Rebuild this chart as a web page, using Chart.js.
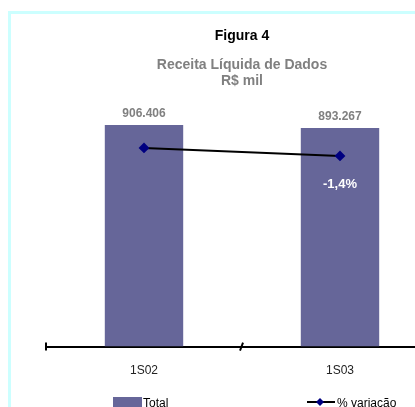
<!DOCTYPE html>
<html>
<head>
<meta charset="utf-8">
<script src="https://cdn.jsdelivr.net/npm/chart.js@4/dist/chart.umd.min.js"></script>
<style>
  html, body { margin: 0; padding: 0; background: #fff; overflow: hidden; width: 415px; height: 407px; }
  canvas { display: block; }
</style>
</head>
<body>
<canvas id="chart" width="460" height="420"></canvas>
<script>
const categories = ["1S02", "1S03"];
const totals = [906406, 893267];
const variation = [0, -1.4];
const totalLabels = ["906.406", "893.267"];
const variationLabels = [null, "-1,4%"];

const FONT = "'Liberation Sans', Arial, sans-serif";

// light cyan frame of the original sheet
const framePlugin = {
  id: "frame",
  beforeDraw(chart) {
    const ctx = chart.ctx;
    ctx.save();
    ctx.strokeStyle = "#ccffff";
    ctx.lineWidth = 3;
    ctx.beginPath();
    ctx.moveTo(9.5, 600);
    ctx.lineTo(9.5, 12.5);
    ctx.lineTo(600, 12.5);
    ctx.stroke();
    ctx.restore();
  }
};

// tick marks between categories, value labels, legend
const extrasPlugin = {
  id: "extras",
  afterDraw(chart) {
    const ctx = chart.ctx;
    const x = chart.scales.x;
    const y0 = chart.chartArea.bottom;
    const step = x.getPixelForValue(1) - x.getPixelForValue(0);
    ctx.save();
    ctx.strokeStyle = "#000";
    ctx.lineWidth = 2;
    for (let i = 0; i <= categories.length; i++) {
      const px = x.getPixelForValue(i) - step / 2;
      ctx.beginPath();
      if (i === 0) {
        ctx.moveTo(px, y0 - 4);
        ctx.lineTo(px, y0 + 4);
      } else {
        ctx.moveTo(px - 2, y0 + 4);
        ctx.lineTo(px + 1, y0 - 4);
      }
      ctx.stroke();
    }

    ctx.textAlign = "center";
    ctx.textBaseline = "alphabetic";
    ctx.font = "bold 12px " + FONT;
    ctx.fillStyle = "#808080";
    chart.getDatasetMeta(0).data.forEach((bar, i) => {
      ctx.fillText(totalLabels[i], bar.x, bar.y - 8);
    });
    ctx.fillStyle = "#ffffff";
    ctx.font = "bold 13px " + FONT;
    chart.getDatasetMeta(1).data.forEach((pt, i) => {
      if (variationLabels[i]) ctx.fillText(variationLabels[i], pt.x, pt.y + 32);
    });

    // legend
    const ds = chart.data.datasets;
    ctx.font = "12px " + FONT;
    ctx.textAlign = "left";
    ctx.fillStyle = ds[0].backgroundColor;
    ctx.fillRect(113, 397, 29, 12);
    ctx.fillStyle = "#000";
    ctx.fillText(ds[0].label, 143, 407);
    ctx.strokeStyle = ds[1].borderColor;
    ctx.lineWidth = 2;
    ctx.beginPath();
    ctx.moveTo(307, 402);
    ctx.lineTo(335, 402);
    ctx.stroke();
    ctx.fillStyle = ds[1].pointBackgroundColor;
    ctx.beginPath();
    ctx.moveTo(320, 398);
    ctx.lineTo(324, 402);
    ctx.lineTo(320, 406);
    ctx.lineTo(316, 402);
    ctx.closePath();
    ctx.fill();
    ctx.fillStyle = "#000";
    ctx.fillText(ds[1].label, 337, 407);
    ctx.restore();
  }
};

new Chart(document.getElementById("chart"), {
  data: {
    labels: categories,
    datasets: [
      {
        type: "bar",
        label: "Total",
        data: totals,
        yAxisID: "y",
        backgroundColor: "#666699",
        barPercentage: 0.4,
        categoryPercentage: 1,
        order: 1
      },
      {
        type: "line",
        label: "% variação",
        data: variation,
        yAxisID: "y1",
        borderColor: "#000000",
        borderWidth: 2,
        pointStyle: "rectRot",
        pointRadius: 4,
        pointBackgroundColor: "#000080",
        pointBorderColor: "#000080",
        tension: 0,
        order: 0
      }
    ]
  },
  options: {
    responsive: false,
    animation: false,
    layout: { padding: { left: 46, right: 22, top: 0, bottom: 33 } },
    scales: {
      x: {
        grid: { display: false },
        border: { display: true, color: "#000", width: 2 },
        ticks: { color: "#222", font: { family: FONT, size: 12 }, padding: 9 }
      },
      y: { display: false, min: 0, max: 1000000 },
      y1: { display: false, min: -34.83, max: 8.05 }
    },
    plugins: {
      legend: { display: false },
      tooltip: { enabled: false },
      title: {
        display: true,
        text: "Figura 4",
        color: "#000",
        font: { family: FONT, size: 14, weight: "bold" },
        padding: { top: 28, bottom: 12 }
      },
      subtitle: {
        display: true,
        text: ["Receita Líquida de Dados", "R$ mil"],
        color: "#808080",
        font: { family: FONT, size: 14, weight: "bold", lineHeight: 1.15 },
        padding: { top: 0, bottom: 13 }
      }
    }
  },
  plugins: [framePlugin, extrasPlugin]
});
</script>
</body>
</html>
